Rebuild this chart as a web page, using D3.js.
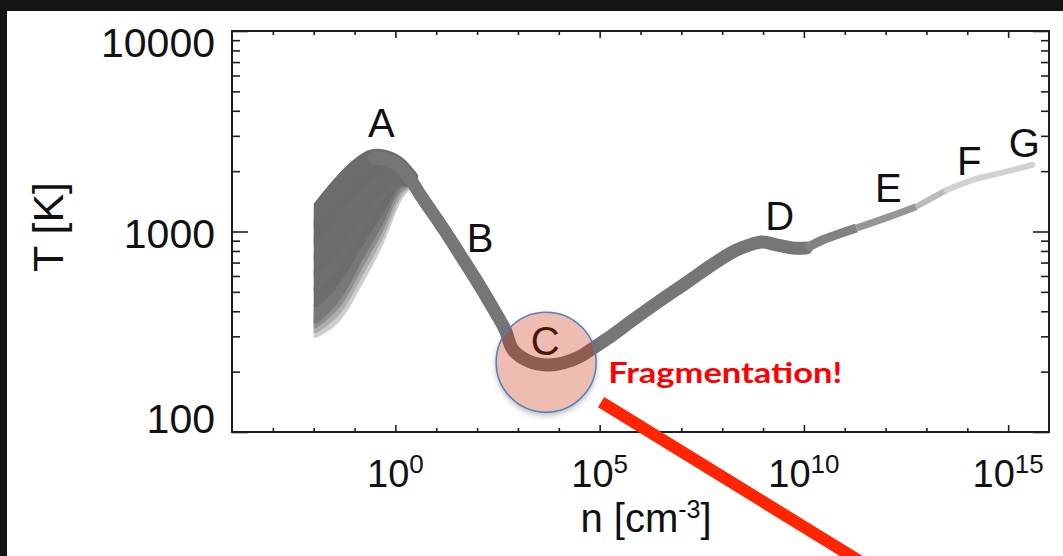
<!DOCTYPE html>
<html>
<head>
<meta charset="utf-8">
<script src="https://cdn.jsdelivr.net/npm/d3@7"></script>
<style>
  html, body { margin: 0; padding: 0; background: #151515; overflow: hidden; }
  svg { display: block; }
</style>
</head>
<body>
<script>
// tick labels
const xTickExps   = [0, 5, 10, 15];
const yTickValues = [100, 1000, 10000];
const yTickLabels = ["100", "1000", "10000"];

// low density fan: every track starts at n = 0.01 with its own temperature
const fanN = [0.01, 0.03, 0.1, 0.3, 1, 2.2];
const fanT0 = [1168, 1556, 2026, 2339, 2196, 1850];
const fanT1 = [969, 1280, 1716, 2064, 2117, 1850];
const fanT2 = [806, 1053, 1453, 1821, 2043, 1850];
const fanT3 = [669, 866, 1230, 1605, 1970, 1850];
const fanT4 = [555, 713, 1041, 1416, 1898, 1850];
const fanT5 = [462, 586, 882, 1250, 1832, 1850];
const fanT6 = [383, 482, 746, 1103, 1766, 1850];
const fanT7 = [362, 445, 681, 1017, 1686, 1850];
const fanT8 = [342, 411, 621, 939, 1611, 1850];
const fanT9 = [323, 379, 566, 866, 1538, 1850];

// common path after the tracks converge
const pathN = [0.3, 1, 2.2, 4.1, 15.7, 38.7, 95, 221, 487, 764, 1990, 5080, 12700, 33100, 77000,
               2.1e5, 6.5e5, 2.5e6, 1.52e7, 5.56e7, 2.03e8, 4.71e8, 9.27e8, 2.15e9, 5.3e9, 1.16e10,
               2.86e10, 1.95e11, 1.24e12, 5.6e12, 1.38e13, 3.1e13, 1.33e14, 8.9e14, 3.9e15];
const pathT = [2339, 2198, 1850, 1520, 1017, 764, 573, 430, 323, 256, 224, 216, 221, 238, 266,
               305, 362, 440, 566, 681, 800, 857, 887, 857, 828, 828,
               907, 1041, 1186, 1330, 1470, 1610, 1806, 1987, 2149];

// stage letters
const stageNames = ["A", "B", "C", "D", "E", "F", "G"];
const stageN = [0.455, 119, 4620, 2.55e9, 1.17e12, 1.12e14, 2.47e15];
const stageT = [2958, 790, 242, 1017, 1403, 1914, 2353];

// fragmentation marker
const fragN = 4900;
const fragT = 223;

function init() {
    const width  = 1063;
    const height = 556;

    const svg = d3.select("body").append("svg")
        .attr("width", width)
        .attr("height", height)
        .style("font-family", "'Liberation Sans', Arial, sans-serif");

    svg.append("rect")
        .attr("x", 7).attr("y", 11)
        .attr("width", width - 7).attr("height", height - 11)
        .attr("fill", "#ffffff");

    const left = 232, right = 1049, top = 31, bottom = 432;

    const x = d3.scaleLog().domain([1e-4, 1e16]).range([left, right]);
    const y = d3.scaleLog().domain([100, 10000]).range([bottom, top]);

    const cx = x(fragN), cy = y(fragT), r = 50;

    const defs = svg.append("defs");
    defs.append("clipPath").attr("id", "fanclip")
        .append("rect")
        .attr("x", x(fanN[0])).attr("y", top)
        .attr("width", right - x(fanN[0])).attr("height", bottom - top);
    defs.append("filter").attr("id", "blur")
        .attr("x", "-30%").attr("y", "-30%").attr("width", "160%").attr("height", "160%")
        .append("feGaussianBlur").attr("stdDeviation", 3);
    const mask = defs.append("mask").attr("id", "outside");
    mask.append("rect").attr("width", width).attr("height", height).attr("fill", "#fff");
    mask.append("circle").attr("cx", cx).attr("cy", cy).attr("r", r).attr("fill", "#000");

    const line = d3.line()
        .x(d => x(d[0]))
        .y(d => y(d[1]))
        .curve(d3.curveCatmullRom.alpha(0.5));

    // fan tracks, light ones first so the dark ones lie on top
    const fanTracks = [fanT0, fanT1, fanT2, fanT3, fanT4, fanT5, fanT6, fanT7, fanT8, fanT9];
    const fanColors = ["#6c6c6c", "#6b6b6b", "#6d6d6d", "#6c6c6c", "#6e6e6e",
                       "#6c6c6c", "#787878", "#8f8f8f", "#adadad", "#cdcdcd"];
    const fanG = svg.append("g").attr("clip-path", "url(#fanclip)");
    fanG.selectAll("path")
        .data(fanTracks.map((t, i) => ({ pts: fanN.map((n, j) => [n, t[j]]), color: fanColors[i] })).reverse())
        .enter()
        .append("path")
        .attr("d", d => line(d.pts))
        .attr("fill", "none")
        .attr("stroke", d => d.color)
        .attr("stroke-width", 17)
        .attr("stroke-linejoin", "round")
        .attr("stroke-linecap", "round");

    // main path, greyer and thinner at high density
    const pathPts = pathN.map((n, i) => [n, pathT[i]]);
    const segs = [
        { lo: 0.3,     hi: 1.16e10, color: "#767676", w: 13 },
        { lo: 1.16e10, hi: 1.95e11, color: "#828282", w: 9 },
        { lo: 1.95e11, hi: 5.6e12,  color: "#969696", w: 7 },
        { lo: 5.6e12,  hi: 3.1e13,  color: "#bababa", w: 6 },
        { lo: 3.1e13,  hi: 3.9e15,  color: "#d2d2d2", w: 6 }
    ];
    svg.append("g").selectAll("path")
        .data(segs)
        .enter()
        .append("path")
        .attr("d", s => line(pathPts.filter(p => p[0] >= s.lo && p[0] <= s.hi)))
        .attr("fill", "none")
        .attr("stroke", s => s.color)
        .attr("stroke-width", s => s.w)
        .attr("stroke-linejoin", "round")
        .attr("stroke-linecap", (s, i) => i === 0 || i === segs.length - 1 ? "round" : "butt");

    // frame and ticks
    svg.append("rect")
        .attr("x", left).attr("y", top)
        .attr("width", right - left).attr("height", bottom - top)
        .attr("fill", "none")
        .attr("stroke", "#1e1e1e")
        .attr("stroke-width", 2);

    const xMajor = xTickExps.map(e => Math.pow(10, e));
    const xMinor = d3.range(-3, 16).filter(e => e % 5 !== 0).map(e => Math.pow(10, e));
    const yMinor = y.ticks().filter(v => yTickValues.indexOf(v) < 0);

    function ticks(axis, transform) {
        const g = svg.append("g").attr("transform", transform).call(axis);
        g.select(".domain").remove();
        g.selectAll("line").attr("stroke", "#1e1e1e").attr("stroke-width", 1.6);
    }
    ticks(d3.axisBottom(x).tickValues(xMajor).tickSize(-7).tickFormat(""), `translate(0,${bottom})`);
    ticks(d3.axisBottom(x).tickValues(xMinor).tickSize(-4).tickFormat(""), `translate(0,${bottom})`);
    ticks(d3.axisTop(x).tickValues(xMajor).tickSize(-7).tickFormat(""), `translate(0,${top})`);
    ticks(d3.axisTop(x).tickValues(xMinor).tickSize(-4).tickFormat(""), `translate(0,${top})`);
    ticks(d3.axisLeft(y).tickValues(yTickValues).tickSize(-16).tickFormat(""), `translate(${left},0)`);
    ticks(d3.axisLeft(y).tickValues(yMinor).tickSize(-8).tickFormat(""), `translate(${left},0)`);
    ticks(d3.axisRight(y).tickValues(yTickValues).tickSize(-16).tickFormat(""), `translate(${right},0)`);
    ticks(d3.axisRight(y).tickValues(yMinor).tickSize(-8).tickFormat(""), `translate(${right},0)`);

    // tick labels
    xTickExps.forEach(e => {
        const t = svg.append("text")
            .attr("x", x(Math.pow(10, e)))
            .attr("y", 487)
            .attr("text-anchor", "middle")
            .attr("font-size", 38)
            .attr("fill", "#111");
        t.append("tspan").text("10");
        t.append("tspan").attr("dy", -14).attr("font-size", 26).text(e);
    });

    yTickValues.forEach((v, i) => {
        svg.append("text")
            .attr("x", 215)
            .attr("y", Math.min(Math.max(y(v) + 16, top + 26), bottom + 1))
            .attr("text-anchor", "end")
            .attr("font-size", 41)
            .attr("fill", "#111")
            .text(yTickLabels[i]);
    });

    // axis titles
    svg.append("text")
        .attr("transform", "translate(63,227) rotate(-90)")
        .attr("text-anchor", "middle")
        .attr("font-size", 43)
        .attr("fill", "#111")
        .text("T [K]");

    const xt = svg.append("text")
        .attr("x", 646)
        .attr("y", 532)
        .attr("text-anchor", "middle")
        .attr("font-size", 40)
        .attr("fill", "#111");
    xt.append("tspan").text("n [cm");
    xt.append("tspan").attr("dy", -14).attr("font-size", 25).text("-3");
    xt.append("tspan").attr("dy", 14).text("]");

    // stage letters
    svg.append("g").selectAll("text")
        .data(stageNames)
        .enter()
        .append("text")
        .attr("x", (d, i) => x(stageN[i]))
        .attr("y", (d, i) => y(stageT[i]))
        .attr("text-anchor", "middle")
        .attr("font-size", 40)
        .attr("fill", "#111")
        .text(d => d);

    // fragmentation annotation
    svg.append("circle")
        .attr("cx", cx).attr("cy", cy + 3).attr("r", r)
        .attr("fill", "#000")
        .attr("fill-opacity", 0.3)
        .attr("filter", "url(#blur)")
        .attr("mask", "url(#outside)");
    svg.append("circle")
        .attr("cx", cx).attr("cy", cy).attr("r", r)
        .attr("fill", "rgb(200,40,0)")
        .attr("fill-opacity", 0.31)
        .attr("stroke", "#4f81bd")
        .attr("stroke-width", 1.5);

    svg.append("text")
        .attr("x", cx + 62)
        .attr("y", cy + 21)
        .attr("font-family", "Lato, 'Open Sans', sans-serif")
        .attr("font-weight", "bold")
        .attr("font-size", 29)
        .attr("textLength", 234)
        .attr("lengthAdjust", "spacingAndGlyphs")
        .attr("fill", "#ff0000")
        .text("Fragmentation!");

    svg.append("line")
        .attr("x1", cx + 55).attr("y1", cy + 40)
        .attr("x2", cx + 55 + 340).attr("y2", cy + 40 + 0.615 * 340)
        .attr("stroke", "#ff2500")
        .attr("stroke-width", 12);
}
init();
</script>
</body>
</html>
